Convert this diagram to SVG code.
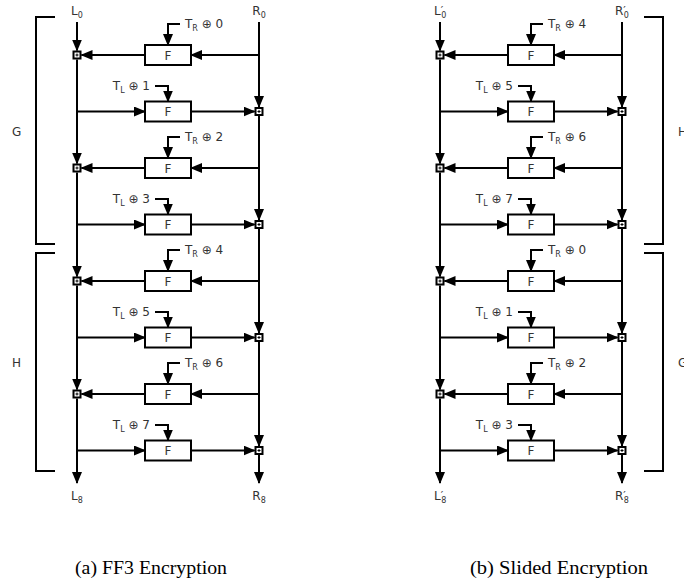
<svg xmlns="http://www.w3.org/2000/svg" xmlns:xlink="http://www.w3.org/1999/xlink" width="684" height="584" viewBox="0 0 684 584">
<style>
.ln{fill:none;stroke:#000;stroke-width:2}
.ar{fill:none;stroke:#000;stroke-width:2;marker-end:url(#ah)}
.f{fill:#fff;stroke:#000;stroke-width:2}
.t{font-family:"DejaVu Sans","Liberation Sans",sans-serif;font-size:12px;fill:#333}
.ft{font-family:"DejaVu Sans","Liberation Sans",sans-serif;font-size:12px;fill:#333;text-anchor:middle}
.m{text-anchor:middle}
.e{text-anchor:end}
.s{font-size:8px}
.p{font-size:11px}
.cap{font-family:"Liberation Serif","DejaVu Serif",serif;font-size:18px;fill:#000}
</style>
<defs>
<marker id="ah" markerUnits="userSpaceOnUse" markerWidth="12" markerHeight="10" refX="11" refY="5" orient="auto">
<path d="M0,0 L12,5 L0,10 z" fill="#000"/>
</marker>
<g id="xor"><rect x="-3.5" y="-3.5" width="7" height="7" fill="#fff" stroke="#000" stroke-width="2"/><path d="M-1.5,0H1.5M0,-1.5V1.5" stroke="#000" stroke-width="1"/></g>
</defs>

<g id="connectors">
<path class="ar" d="M77,22V50.5"/>
<path class="ar" d="M77,59.5V163.5"/>
<path class="ar" d="M77,172.5V276.5"/>
<path class="ar" d="M77,285.5V389.5"/>
<path class="ar" d="M77,398.5V483"/>
<path class="ar" d="M259,22V107"/>
<path class="ar" d="M259,116V220"/>
<path class="ar" d="M259,229V333"/>
<path class="ar" d="M259,342V446"/>
<path class="ar" d="M259,455V483"/>
<path class="ar" d="M259,55H191"/><path class="ar" d="M145,55H81.5"/><path class="ar" d="M180,24H168V45"/>
<path class="ar" d="M77,111.5H145"/><path class="ar" d="M191,111.5H254.5"/><path class="ar" d="M155,86H168V101.5"/>
<path class="ar" d="M259,168H191"/><path class="ar" d="M145,168H81.5"/><path class="ar" d="M180,137H168V158"/>
<path class="ar" d="M77,224.5H145"/><path class="ar" d="M191,224.5H254.5"/><path class="ar" d="M155,199H168V214.5"/>
<path class="ar" d="M259,281H191"/><path class="ar" d="M145,281H81.5"/><path class="ar" d="M180,250H168V271"/>
<path class="ar" d="M77,337.5H145"/><path class="ar" d="M191,337.5H254.5"/><path class="ar" d="M155,312H168V327.5"/>
<path class="ar" d="M259,394H191"/><path class="ar" d="M145,394H81.5"/><path class="ar" d="M180,363H168V384"/>
<path class="ar" d="M77,450.5H145"/><path class="ar" d="M191,450.5H254.5"/><path class="ar" d="M155,425H168V440.5"/>
<path class="ar" d="M440,22V50.5"/>
<path class="ar" d="M440,59.5V163.5"/>
<path class="ar" d="M440,172.5V276.5"/>
<path class="ar" d="M440,285.5V389.5"/>
<path class="ar" d="M440,398.5V483"/>
<path class="ar" d="M622,22V107"/>
<path class="ar" d="M622,116V220"/>
<path class="ar" d="M622,229V333"/>
<path class="ar" d="M622,342V446"/>
<path class="ar" d="M622,455V483"/>
<path class="ar" d="M622,55H554"/><path class="ar" d="M508,55H444.5"/><path class="ar" d="M543,24H531V45"/>
<path class="ar" d="M440,111.5H508"/><path class="ar" d="M554,111.5H617.5"/><path class="ar" d="M518,86H531V101.5"/>
<path class="ar" d="M622,168H554"/><path class="ar" d="M508,168H444.5"/><path class="ar" d="M543,137H531V158"/>
<path class="ar" d="M440,224.5H508"/><path class="ar" d="M554,224.5H617.5"/><path class="ar" d="M518,199H531V214.5"/>
<path class="ar" d="M622,281H554"/><path class="ar" d="M508,281H444.5"/><path class="ar" d="M543,250H531V271"/>
<path class="ar" d="M440,337.5H508"/><path class="ar" d="M554,337.5H617.5"/><path class="ar" d="M518,312H531V327.5"/>
<path class="ar" d="M622,394H554"/><path class="ar" d="M508,394H444.5"/><path class="ar" d="M543,363H531V384"/>
<path class="ar" d="M440,450.5H508"/><path class="ar" d="M554,450.5H617.5"/><path class="ar" d="M518,425H531V440.5"/>
</g>

<g id="brackets">
<path class="ln" d="M55,17H36V244H55"/>
<path class="ln" d="M55,253H36V471H55"/>
<path class="ln" d="M644,17H663V244H644"/>
<path class="ln" d="M644,253H663V471H644"/>
<text class="t" x="12" y="136">G</text>
<text class="t" x="12" y="367">H</text>
<text class="t" x="678" y="136">H</text>
<text class="t" x="678" y="367">G</text>
</g>

<g id="a-L0"><text class="t m" x="77" y="15">L<tspan class="s" dy="3">0</tspan></text></g>
<g id="a-R0"><text class="t m" x="259" y="15">R<tspan class="s" dy="3">0</tspan></text></g>
<g id="a-L8"><text class="t m" x="77" y="500">L<tspan class="s" dy="3">8</tspan></text></g>
<g id="a-R8"><text class="t m" x="259" y="500">R<tspan class="s" dy="3">8</tspan></text></g>

<g id="a-f1"><rect class="f" x="145" y="45" width="46" height="20"/><text class="ft" x="168" y="59.5">F</text><text class="t" x="185" y="28">T<tspan class="s" dy="3">R</tspan><tspan dy="-3"> ⊕ 0</tspan></text></g>
<g id="a-f2"><rect class="f" x="145" y="101.5" width="46" height="20"/><text class="ft" x="168" y="116">F</text><text class="t e" x="150" y="89.5">T<tspan class="s" dy="3">L</tspan><tspan dy="-3"> ⊕ 1</tspan></text></g>
<g id="a-f3"><rect class="f" x="145" y="158" width="46" height="20"/><text class="ft" x="168" y="172.5">F</text><text class="t" x="185" y="141">T<tspan class="s" dy="3">R</tspan><tspan dy="-3"> ⊕ 2</tspan></text></g>
<g id="a-f4"><rect class="f" x="145" y="214.5" width="46" height="20"/><text class="ft" x="168" y="229">F</text><text class="t e" x="150" y="202.5">T<tspan class="s" dy="3">L</tspan><tspan dy="-3"> ⊕ 3</tspan></text></g>
<g id="a-f5"><rect class="f" x="145" y="271" width="46" height="20"/><text class="ft" x="168" y="285.5">F</text><text class="t" x="185" y="254">T<tspan class="s" dy="3">R</tspan><tspan dy="-3"> ⊕ 4</tspan></text></g>
<g id="a-f6"><rect class="f" x="145" y="327.5" width="46" height="20"/><text class="ft" x="168" y="342">F</text><text class="t e" x="150" y="315.5">T<tspan class="s" dy="3">L</tspan><tspan dy="-3"> ⊕ 5</tspan></text></g>
<g id="a-f7"><rect class="f" x="145" y="384" width="46" height="20"/><text class="ft" x="168" y="398.5">F</text><text class="t" x="185" y="367">T<tspan class="s" dy="3">R</tspan><tspan dy="-3"> ⊕ 6</tspan></text></g>
<g id="a-f8"><rect class="f" x="145" y="440.5" width="46" height="20"/><text class="ft" x="168" y="455">F</text><text class="t e" x="150" y="428.5">T<tspan class="s" dy="3">L</tspan><tspan dy="-3"> ⊕ 7</tspan></text></g>

<g id="a-x1"><use xlink:href="#xor" x="77" y="55"/></g>
<g id="a-x2"><use xlink:href="#xor" x="259" y="111.5"/></g>
<g id="a-x3"><use xlink:href="#xor" x="77" y="168"/></g>
<g id="a-x4"><use xlink:href="#xor" x="259" y="224.5"/></g>
<g id="a-x5"><use xlink:href="#xor" x="77" y="281"/></g>
<g id="a-x6"><use xlink:href="#xor" x="259" y="337.5"/></g>
<g id="a-x7"><use xlink:href="#xor" x="77" y="394"/></g>
<g id="a-x8"><use xlink:href="#xor" x="259" y="450.5"/></g>

<g id="b-L0"><text class="t" x="434" y="15">L<tspan class="p" dy="-1">′</tspan><tspan class="s" dx="-2" dy="4">0</tspan></text></g>
<g id="b-R0"><text class="t" x="615" y="15">R<tspan class="p" dy="-1">′</tspan><tspan class="s" dx="-2" dy="4">0</tspan></text></g>
<g id="b-L8"><text class="t" x="434" y="500">L<tspan class="p" dy="-1">′</tspan><tspan class="s" dx="-2" dy="4">8</tspan></text></g>
<g id="b-R8"><text class="t" x="615" y="500">R<tspan class="p" dy="-1">′</tspan><tspan class="s" dx="-2" dy="4">8</tspan></text></g>

<g id="b-f1"><rect class="f" x="508" y="45" width="46" height="20"/><text class="ft" x="531" y="59.5">F</text><text class="t" x="548" y="28">T<tspan class="s" dy="3">R</tspan><tspan dy="-3"> ⊕ 4</tspan></text></g>
<g id="b-f2"><rect class="f" x="508" y="101.5" width="46" height="20"/><text class="ft" x="531" y="116">F</text><text class="t e" x="513" y="89.5">T<tspan class="s" dy="3">L</tspan><tspan dy="-3"> ⊕ 5</tspan></text></g>
<g id="b-f3"><rect class="f" x="508" y="158" width="46" height="20"/><text class="ft" x="531" y="172.5">F</text><text class="t" x="548" y="141">T<tspan class="s" dy="3">R</tspan><tspan dy="-3"> ⊕ 6</tspan></text></g>
<g id="b-f4"><rect class="f" x="508" y="214.5" width="46" height="20"/><text class="ft" x="531" y="229">F</text><text class="t e" x="513" y="202.5">T<tspan class="s" dy="3">L</tspan><tspan dy="-3"> ⊕ 7</tspan></text></g>
<g id="b-f5"><rect class="f" x="508" y="271" width="46" height="20"/><text class="ft" x="531" y="285.5">F</text><text class="t" x="548" y="254">T<tspan class="s" dy="3">R</tspan><tspan dy="-3"> ⊕ 0</tspan></text></g>
<g id="b-f6"><rect class="f" x="508" y="327.5" width="46" height="20"/><text class="ft" x="531" y="342">F</text><text class="t e" x="513" y="315.5">T<tspan class="s" dy="3">L</tspan><tspan dy="-3"> ⊕ 1</tspan></text></g>
<g id="b-f7"><rect class="f" x="508" y="384" width="46" height="20"/><text class="ft" x="531" y="398.5">F</text><text class="t" x="548" y="367">T<tspan class="s" dy="3">R</tspan><tspan dy="-3"> ⊕ 2</tspan></text></g>
<g id="b-f8"><rect class="f" x="508" y="440.5" width="46" height="20"/><text class="ft" x="531" y="455">F</text><text class="t e" x="513" y="428.5">T<tspan class="s" dy="3">L</tspan><tspan dy="-3"> ⊕ 3</tspan></text></g>

<g id="b-x1"><use xlink:href="#xor" x="440" y="55"/></g>
<g id="b-x2"><use xlink:href="#xor" x="622" y="111.5"/></g>
<g id="b-x3"><use xlink:href="#xor" x="440" y="168"/></g>
<g id="b-x4"><use xlink:href="#xor" x="622" y="224.5"/></g>
<g id="b-x5"><use xlink:href="#xor" x="440" y="281"/></g>
<g id="b-x6"><use xlink:href="#xor" x="622" y="337.5"/></g>
<g id="b-x7"><use xlink:href="#xor" x="440" y="394"/></g>
<g id="b-x8"><use xlink:href="#xor" x="622" y="450.5"/></g>

<g id="captions">
<text class="cap" x="75" y="574" textLength="152" lengthAdjust="spacingAndGlyphs">(a) FF3 Encryption</text>
<text class="cap" x="470" y="574" textLength="178" lengthAdjust="spacingAndGlyphs">(b) Slided Encryption</text>
</g>
</svg>
